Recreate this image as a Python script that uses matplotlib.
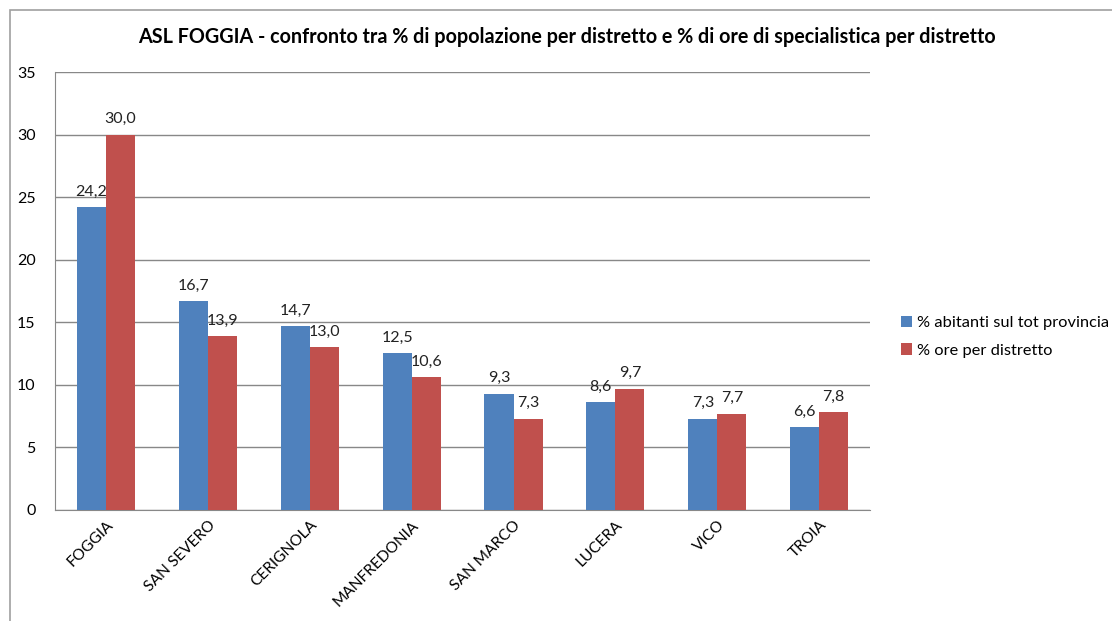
import matplotlib.pyplot as plt
import numpy as np
from matplotlib.patches import Rectangle

plt.rcParams['font.family'] = ['Lato', 'DejaVu Sans']

distretti = ['FOGGIA', 'SAN SEVERO', 'CERIGNOLA', 'MANFREDONIA', 'SAN MARCO',
             'LUCERA', 'VICO', 'TROIA']
abitanti = [24.2, 16.7, 14.7, 12.5, 9.3, 8.6, 7.3, 6.6]
ore = [30.0, 13.9, 13.0, 10.6, 7.3, 9.7, 7.7, 7.8]
serie = ['% abitanti sul tot provincia', '% ore per distretto']

blu = '#4F81BD'
rosso = '#C0504D'

fig = plt.figure(figsize=(11.12, 6.21), dpi=100)
ax = fig.add_axes([0.0495, 0.179, 0.733, 0.705])

# bordo del grafico
fig.patches.append(Rectangle((0.009, -0.1), 1.2, 0.1 + 0.984, transform=fig.transFigure,
                             fill=False, edgecolor='#a0a0a0', linewidth=1.2))

x = np.arange(len(distretti))
w = 0.285
b1 = ax.bar(x - w / 2, abitanti, w, color=blu, label=serie[0], zorder=3)
b2 = ax.bar(x + w / 2, ore, w, color=rosso, label=serie[1], zorder=3)

for bars in (b1, b2):
    for r in bars:
        h = r.get_height()
        ax.annotate(f'{h:.1f}'.replace('.', ','), (r.get_x() + r.get_width() / 2, h),
                    xytext=(0, 6), textcoords='offset points', ha='center', va='bottom',
                    fontsize=11.5, color='#222222')

ax.set_xlim(-0.5, len(distretti) - 0.5)
ax.set_ylim(0, 35)
ax.set_yticks(range(0, 36, 5))
ax.yaxis.grid(True, color='#888888', linewidth=1, zorder=0)
ax.tick_params(axis='y', length=0, labelsize=11.5, pad=14)
ax.tick_params(axis='x', length=0, labelsize=11.2, pad=6)
ax.set_xticks(x)
ax.set_xticklabels(distretti, rotation=45, ha='right', rotation_mode='anchor')
for s in ['top', 'right']:
    ax.spines[s].set_visible(False)
for s in ['left', 'bottom']:
    ax.spines[s].set_color('#888888')

fig.text(0.51, 0.94,
         'ASL FOGGIA - confronto tra % di popolazione per distretto e % di ore di specialistica per distretto',
         fontsize=14.2, fontweight='bold', ha='center', va='center')

fig.legend(handles=[b1, b2], loc='center left', bbox_to_anchor=(0.797, 0.458),
           frameon=False, fontsize=11.8, handlelength=0.7, handleheight=0.7,
           handletextpad=0.3, labelspacing=0.8)

fig.savefig('out.png', dpi=100)
